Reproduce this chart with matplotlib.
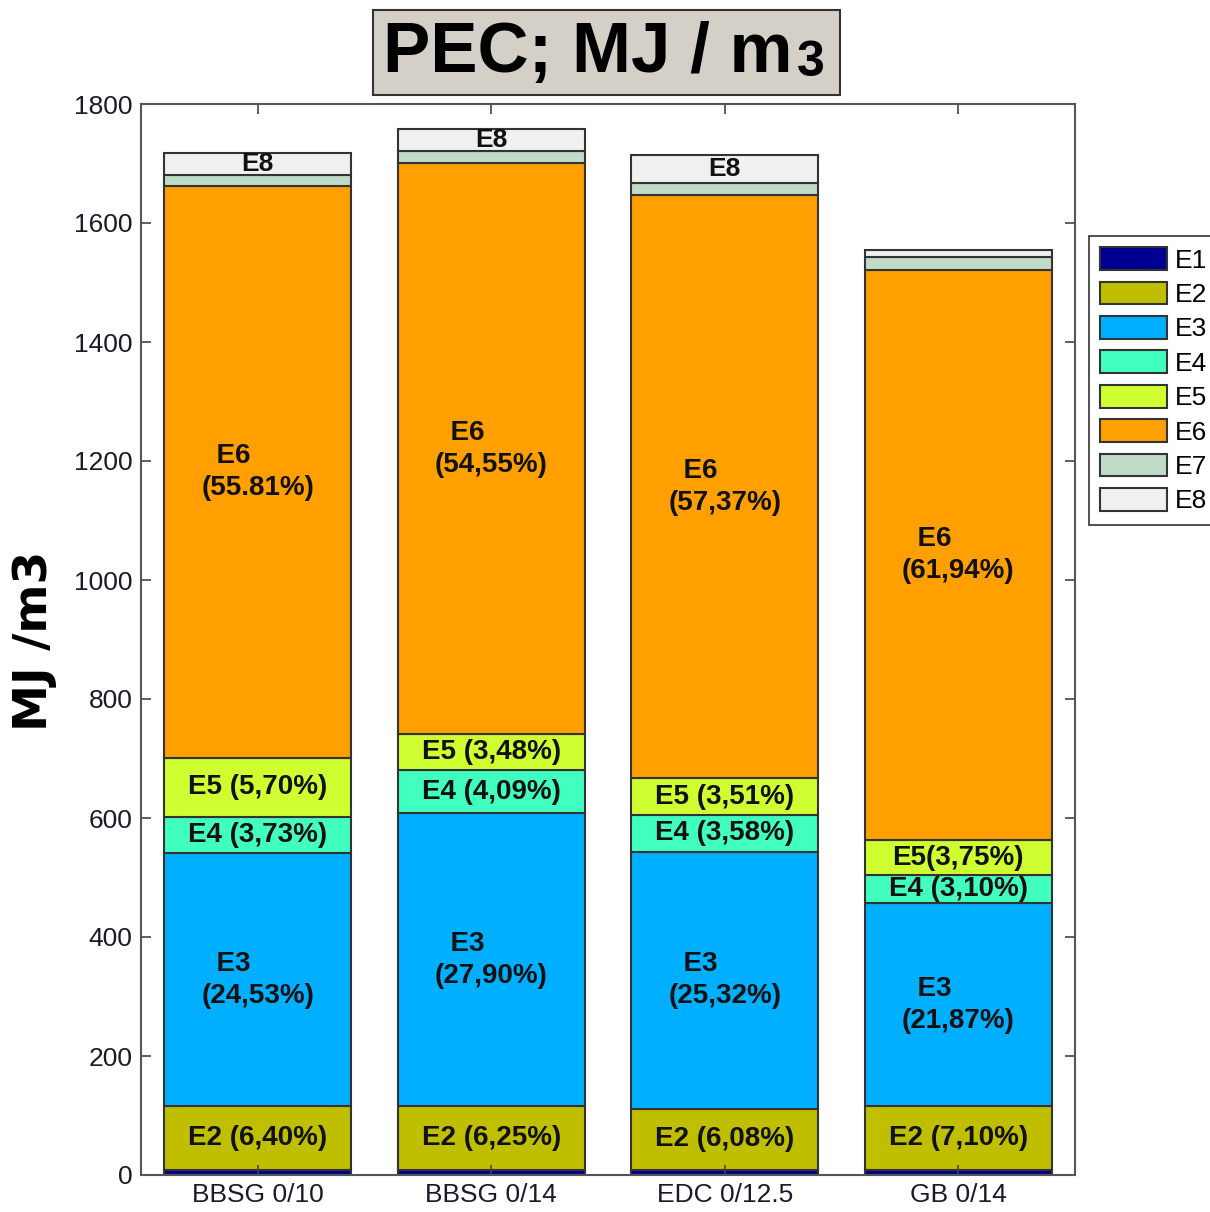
import numpy as np
import matplotlib
matplotlib.use("Agg")
import matplotlib.pyplot as plt
from matplotlib.patches import Rectangle
from matplotlib.text import Annotation

plt.rcParams['font.family'] = ['Liberation Sans', 'DejaVu Sans']

# mixes and energy shares (MJ / m3)
mixes = ["BBSG 0/10", "BBSG 0/14", "EDC 0/12.5", "GB 0/14"]
names = ["E1", "E2", "E3", "E4", "E5", "E6", "E7", "E8"]
E1 = [9, 9, 9, 9]
E2 = [107, 107, 102, 107]
E3 = [425, 492, 432, 341]
E4 = [61, 73, 62, 47]
E5 = [99, 60, 62, 59]
E6 = [961, 960, 980, 958]
E7 = [19, 20, 20, 22]
E8 = [37, 37, 47, 12]
series = [E1, E2, E3, E4, E5, E6, E7, E8]
colors = ["#000090", "#BFBF00", "#00AFFF", "#40FFBF", "#CFFF30",
          "#FF9F00", "#C0DCC8", "#F0F0F0"]

# in-bar labels (None = no label)
labels = {
    "E2": ["E2 (6,40%)", "E2 (6,25%)", "E2 (6,08%)", "E2 (7,10%)"],
    "E3": ["  E3\n(24,53%)", "  E3\n(27,90%)", "  E3\n(25,32%)", "  E3\n(21,87%)"],
    "E4": ["E4 (3,73%)", "E4 (4,09%)", "E4 (3,58%)", "E4 (3,10%)"],
    "E5": ["E5 (5,70%)", "E5 (3,48%)", "E5 (3,51%)", "E5(3,75%)"],
    "E6": ["  E6\n(55.81%)", "  E6\n(54,55%)", "  E6\n(57,37%)", "  E6\n(61,94%)"],
    "E8": ["E8", "E8", "E8", None],
}

fig = plt.figure(figsize=(12.1, 12.12), dpi=100)
ax = fig.add_axes([141 / 1210, 1 - 1175 / 1212, 934 / 1210, 1071 / 1212])

x = np.arange(1, len(mixes) + 1)
bottom = np.zeros(len(mixes))
for name, vals, c in zip(names, series, colors):
    vals = np.array(vals, dtype=float)
    ax.bar(x, vals, 0.8, bottom=bottom, color=c, edgecolor="#333333",
           linewidth=1.5, label=name)
    if name in labels:
        for i, lab in enumerate(labels[name]):
            if lab is None:
                continue
            ax.text(x[i], bottom[i] + vals[i] / 2, lab, ha="center", va="center",
                    multialignment="left", fontsize=19 if name == "E8" else 20,
                    fontweight="bold", color="#111111", linespacing=1.3)
    bottom += vals

ax.set_xlim(0.5, 4.5)
ax.set_ylim(0, 1800)
ax.set_yticks(np.arange(0, 1801, 200))
ax.set_xticks(x)
ax.set_xticklabels(mixes)
ax.tick_params(direction="in", length=7, width=1.2, top=True, right=True,
               labelsize=19, pad=6, colors="#444444", labelcolor="#1a1a2a")
for s in ax.spines.values():
    s.set_color("#555555")
    s.set_linewidth(1.5)

# y label
fig.text(35 / 1210, 1 - 641 / 1212, "MJ /m3", rotation=90, ha="center",
         va="center", fontsize=34, fontweight="bold", family="DejaVu Sans")

# title box
fig.patches.append(Rectangle((373 / 1210, 1 - 95 / 1212), 467 / 1210, 85 / 1212,
                             transform=fig.transFigure, facecolor="#D4D0C8",
                             edgecolor="#333333", linewidth=1.5))
t = fig.text(588 / 1210, 1 - 72 / 1212, "PEC; MJ / m", ha="center", va="baseline",
             fontsize=51, fontweight="bold", zorder=5)
sub = Annotation("3", xy=(1, 0), xycoords=t, xytext=(3, 8), textcoords="offset points",
                 ha="left", va="baseline", fontsize=36, fontweight="bold",
                 annotation_clip=False, zorder=5)
fig.add_artist(sub)

# legend (cut by the figure edge)
leg = fig.legend(loc="upper left", bbox_to_anchor=(1089 / 1210, 1 - 236 / 1212),
                 bbox_transform=fig.transFigure, borderaxespad=0, fontsize=19,
                 handlelength=2.55, handleheight=0.95, labelspacing=0.34,
                 handletextpad=0.3, borderpad=0.42, fancybox=False,
                 edgecolor="#333333", framealpha=1)
leg.get_frame().set_linewidth(1.2)

fig.savefig("out.png", dpi=100)
